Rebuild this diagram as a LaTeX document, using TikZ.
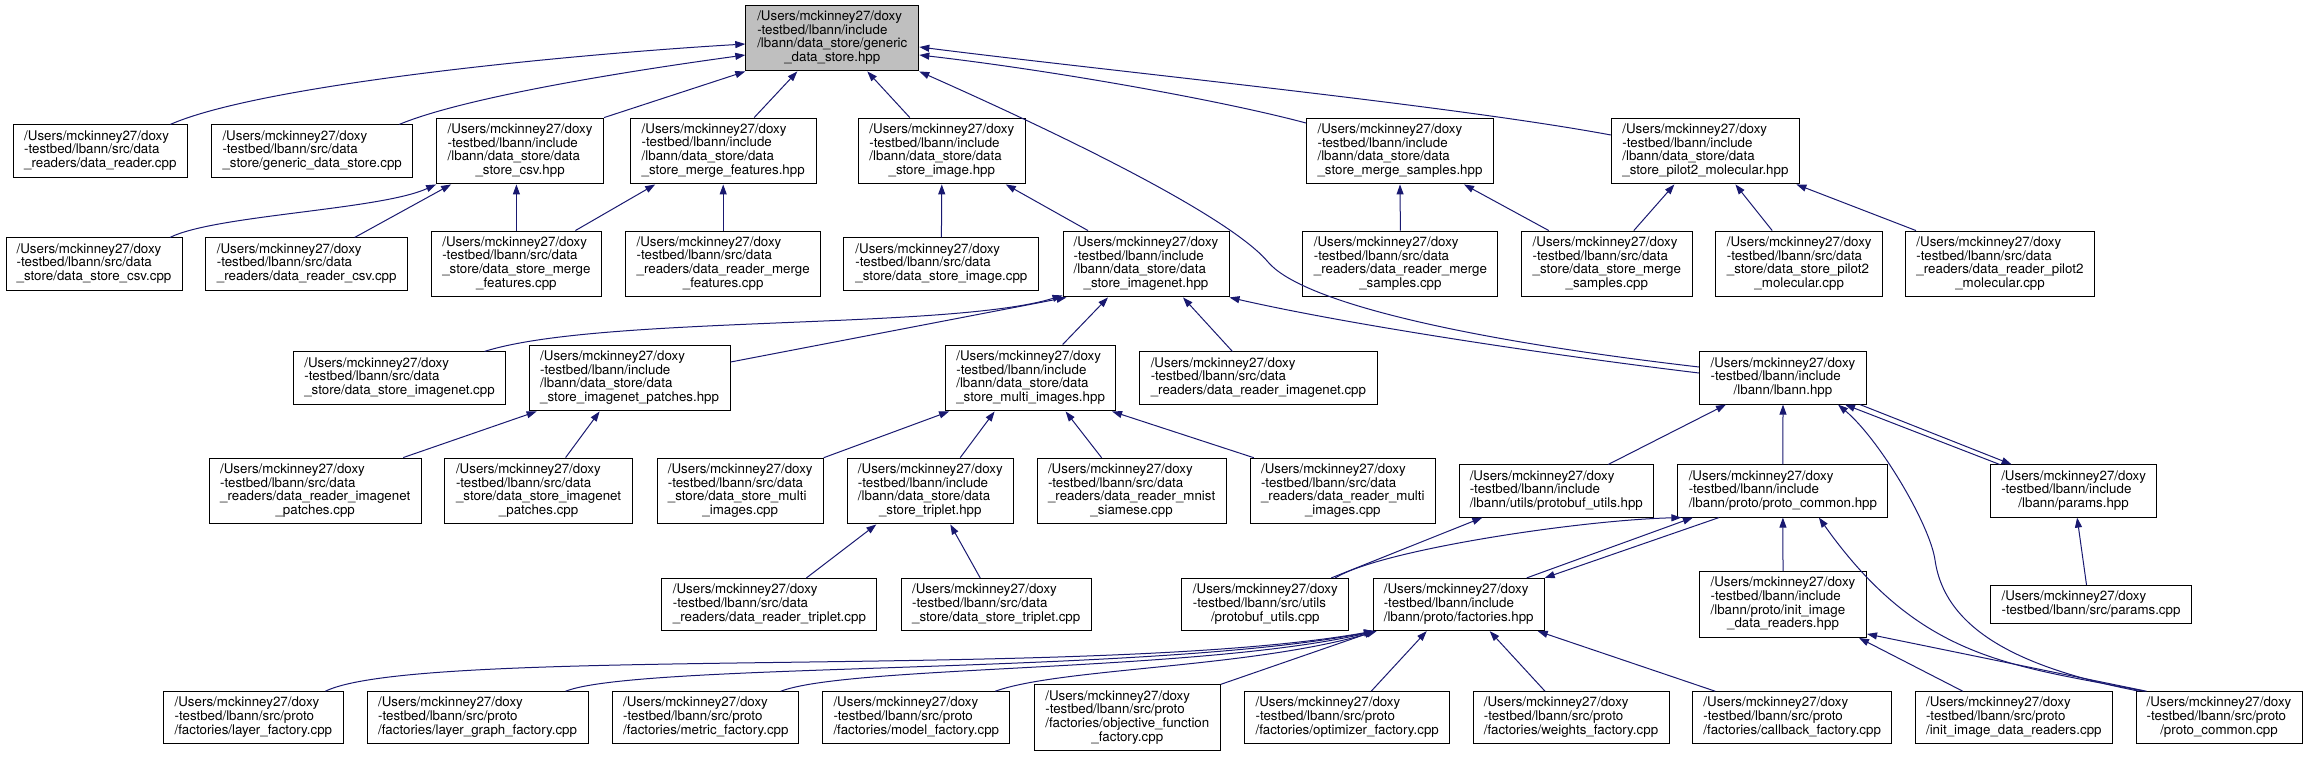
\documentclass[tikz,border=0pt]{standalone}
\usepackage{fontspec}
\setmainfont{TeX Gyre Heros}
\usepackage{tikz}
\usetikzlibrary{arrows.meta}
\definecolor{edgeblue}{RGB}{25,25,112}
\definecolor{rootgray}{RGB}{191,191,191}
\newcommand{\flabel}[2]{\begin{tabular}{@{}l@{}}#1\\\multicolumn{1}{@{}c@{}}{#2}\end{tabular}}
\newcommand{\usr}{/Users/mckinney27/doxy}
\newcommand{\incl}{-testbed/lbann/include}
\newcommand{\srcd}{-testbed/lbann/src/data}
\newcommand{\srcp}{-testbed/lbann/src/proto}
\newcommand{\dsd}{/lbann/data\_store/data}

\begin{document}
\begin{tikzpicture}[
  x=1pt, y=-1pt,
  file/.style={draw,fill=white,line width=1pt,inner xsep=3pt,inner ysep=5.5pt,
    font=\fontsize{13.33}{13.33}\selectfont},
  rootfile/.style={file,fill=rootgray},
  inc/.style={draw=edgeblue,line width=1pt,-{Triangle[length=10pt,width=7pt]}}
]
\useasboundingbox (0,0) rectangle (2308,756);

% root
\node[rootfile,minimum width=173pt] (root) at (832.3,38) {\flabel{\usr\\\incl\\/lbann/data\_store/generic}{\_data\_store.hpp}};

% row A
\node[file,minimum width=174pt] (a1) at (100.3,151) {\flabel{\usr\\\srcd}{\_readers/data\_reader.cpp}};
\node[file,minimum width=201pt] (a2) at (312.2,151) {\flabel{\usr\\\srcd}{\_store/generic\_data\_store.cpp}};
\node[file,minimum width=167pt] (a3) at (520.1,151) {\flabel{\usr\\\incl\\\dsd}{\_store\_csv.hpp}};
\node[file,minimum width=186pt] (a4) at (723.2,151) {\flabel{\usr\\\incl\\\dsd}{\_store\_merge\_features.hpp}};
\node[file,minimum width=167pt] (a5) at (941.8,151) {\flabel{\usr\\\incl\\\dsd}{\_store\_image.hpp}};
\node[file,minimum width=187pt] (a6) at (1400,151) {\flabel{\usr\\\incl\\\dsd}{\_store\_merge\_samples.hpp}};
\node[file,minimum width=188pt] (a7) at (1705.4,151) {\flabel{\usr\\\incl\\\dsd}{\_store\_pilot2\_molecular.hpp}};

% row B
\node[file,minimum width=176pt] (b1) at (94,264) {\flabel{\usr\\\srcd}{\_store/data\_store\_csv.cpp}};
\node[file,minimum width=202pt] (b2) at (306.7,264) {\flabel{\usr\\\srcd}{\_readers/data\_reader\_csv.cpp}};
\node[file,minimum width=170pt] (b3) at (516.4,264) {\flabel{\usr\\\srcd\\\_store/data\_store\_merge}{\_features.cpp}};
\node[file,minimum width=195pt] (b4) at (723.2,264) {\flabel{\usr\\\srcd\\\_readers/data\_reader\_merge}{\_features.cpp}};
\node[file,minimum width=195pt] (b5) at (941.4,264) {\flabel{\usr\\\srcd}{\_store/data\_store\_image.cpp}};
\node[file,minimum width=166pt] (b6) at (1146,264) {\flabel{\usr\\\incl\\\dsd}{\_store\_imagenet.hpp}};
\node[file,minimum width=195pt] (b7) at (1400.4,264) {\flabel{\usr\\\srcd\\\_readers/data\_reader\_merge}{\_samples.cpp}};
\node[file,minimum width=171pt] (b8) at (1606.8,264) {\flabel{\usr\\\srcd\\\_store/data\_store\_merge}{\_samples.cpp}};
\node[file,minimum width=167pt] (b9) at (1799.2,264) {\flabel{\usr\\\srcd\\\_store/data\_store\_pilot2}{\_molecular.cpp}};
\node[file,minimum width=189pt] (b10) at (2000,264) {\flabel{\usr\\\srcd\\\_readers/data\_reader\_pilot2}{\_molecular.cpp}};

% row C
\node[file,minimum width=212pt] (c1) at (399.5,378) {\flabel{\usr\\\srcd}{\_store/data\_store\_imagenet.cpp}};
\node[file,minimum width=201pt] (c2) at (629.6,378) {\flabel{\usr\\\incl\\\dsd}{\_store\_imagenet\_patches.hpp}};
\node[file,minimum width=170pt] (c3) at (1030.6,378) {\flabel{\usr\\\incl\\\dsd}{\_store\_multi\_images.hpp}};
\node[file,minimum width=238pt] (c4) at (1258.4,378) {\flabel{\usr\\\srcd}{\_readers/data\_reader\_imagenet.cpp}};
\node[file,minimum width=167pt] (c5) at (1783,378) {\flabel{\usr\\\incl}{/lbann/lbann.hpp}};

% row D
\node[file,minimum width=212pt] (d1) at (315.2,491) {\flabel{\usr\\\srcd\\\_readers/data\_reader\_imagenet}{\_patches.cpp}};
\node[file,minimum width=188pt] (d2) at (538.6,491) {\flabel{\usr\\\srcd\\\_store/data\_store\_imagenet}{\_patches.cpp}};
\node[file,minimum width=166pt] (d3) at (740.2,491) {\flabel{\usr\\\srcd\\\_store/data\_store\_multi}{\_images.cpp}};
\node[file,minimum width=166pt] (d4) at (930.3,491) {\flabel{\usr\\\incl\\\dsd}{\_store\_triplet.hpp}};
\node[file,minimum width=189pt] (d5) at (1131.6,491) {\flabel{\usr\\\srcd\\\_readers/data\_reader\_mnist}{\_siamese.cpp}};
\node[file,minimum width=185pt] (d6) at (1342.8,491) {\flabel{\usr\\\srcd\\\_readers/data\_reader\_multi}{\_images.cpp}};
\node[file,minimum width=194pt] (d7) at (1556.3,491) {\flabel{\usr\\\incl}{/lbann/utils/protobuf\_utils.hpp}};
\node[file,minimum width=210pt] (d8) at (1782.9,491) {\flabel{\usr\\\incl}{/lbann/proto/proto\_common.hpp}};
\node[file,minimum width=166pt] (d9) at (2073.6,491) {\flabel{\usr\\\incl}{/lbann/params.hpp}};

% row E
\node[file,minimum width=215pt] (e1) at (769.4,604.5) {\flabel{\usr\\\srcd}{\_readers/data\_reader\_triplet.cpp}};
\node[file,minimum width=190pt] (e2) at (996.2,604.5) {\flabel{\usr\\\srcd}{\_store/data\_store\_triplet.cpp}};
\node[file,minimum width=167pt] (e3) at (1265.3,604.5) {\flabel{\usr\\-testbed/lbann/src/utils}{/protobuf\_utils.cpp}};
\node[file,minimum width=171pt] (e4) at (1458.7,604.5) {\flabel{\usr\\\incl}{/lbann/proto/factories.hpp}};
\node[file,minimum width=167pt] (e5) at (1783,604.5) {\flabel{\usr\\\incl\\/lbann/proto/init\_image}{\_data\_readers.hpp}};
\node[file,minimum width=201pt] (e6) at (2091,604.5) {\flabel{\usr}{-testbed/lbann/src/params.cpp}};

% row F
\node[file,minimum width=180pt] (f1) at (253.4,717.8) {\flabel{\usr\\\srcp}{/factories/layer\_factory.cpp}};
\node[file,minimum width=221pt] (f2) at (477.6,717.8) {\flabel{\usr\\\srcp}{/factories/layer\_graph\_factory.cpp}};
\node[file,minimum width=186pt] (f3) at (705.8,717.8) {\flabel{\usr\\\srcp}{/factories/metric\_factory.cpp}};
\node[file,minimum width=187pt] (f4) at (916.3,717.8) {\flabel{\usr\\\srcp}{/factories/model\_factory.cpp}};
\node[file,minimum width=186pt] (f5) at (1127.3,717.8) {\flabel{\usr\\\srcp\\/factories/objective\_function}{\_factory.cpp}};
\node[file,minimum width=205pt] (f6) at (1347.2,717.8) {\flabel{\usr\\\srcp}{/factories/optimizer\_factory.cpp}};
\node[file,minimum width=196pt] (f7) at (1571,717.8) {\flabel{\usr\\\srcp}{/factories/weights\_factory.cpp}};
\node[file,minimum width=199pt] (f8) at (1792.2,717.8) {\flabel{\usr\\\srcp}{/factories/callback\_factory.cpp}};
\node[file,minimum width=197pt] (f9) at (2013.8,717.8) {\flabel{\usr\\\srcp}{/init\_image\_data\_readers.cpp}};
\node[file,minimum width=166pt] (f10) at (2219,717.8) {\flabel{\usr\\\srcp}{/proto\_common.cpp}};

% edges into root
\draw[inc] ([xshift=70pt]a1.north) .. controls (260,85) and (560,55) .. ([yshift=-6pt]root.west);
\draw[inc] ([xshift=87pt]a2.north) .. controls (470,95) and (650,68) .. ([yshift=-17pt]root.west);
\draw[inc] (a3.north east) -- (root.south west);
\draw[inc] ([xshift=31pt]a4.north) -- ([xshift=-35pt]root.south);
\draw[inc] ([xshift=-32pt]a5.north) -- ([xshift=35pt]root.south);
\draw[inc] ([yshift=28pt]a6.west) .. controls (1220,100) and (1050,70) .. ([yshift=-17pt]root.east);
\draw[inc] ([yshift=16pt]a7.west) .. controls (1450,105) and (1100,70) .. ([yshift=-9pt]root.east);
\draw[inc] ([yshift=11pt]c5.west) .. controls (1450,338) and (1300,300) .. (1268,262)
  .. controls (1243,232) and (1150,174) .. (root.south east);

% row B to row A
\draw[inc] ([xshift=76pt]b1.north) .. controls (215,215) and (380,210) .. (a3.south west);
\draw[inc] ([xshift=48pt]b2.north) -- ([xshift=-69pt]a3.south);
\draw[inc] (b3.north) -- (b3.north |- a3.south);
\draw[inc] ([xshift=59pt]b3.north) -- ([xshift=-68pt]a4.south);
\draw[inc] (b4.north) -- (a4.south);
\draw[inc] (b5.north) -- (a5.south);
\draw[inc] ([xshift=-58pt]b6.north) -- ([xshift=64pt]a5.south);
\draw[inc] (b7.north) -- (a6.south);
\draw[inc] ([xshift=-58pt]b8.north) -- ([xshift=64pt]a6.south);
\draw[inc] ([xshift=27pt]b8.north) -- ([xshift=-31pt]a7.south);
\draw[inc] ([xshift=-27pt]b9.north) -- ([xshift=30pt]a7.south);
\draw[inc] ([xshift=-84pt]b10.north) -- ([xshift=91pt]a7.south);

% row C to row B
\draw[inc] ([xshift=85pt]c1.north) .. controls (600,315) and (950,330) .. ([yshift=2pt]b6.south west);
\draw[inc] ([yshift=16pt]c2.east) -- ([xshift=4pt]b6.south west);
\draw[inc] ([xshift=32pt]c3.north) -- ([xshift=-38pt]b6.south);
\draw[inc] ([xshift=-26pt]c4.north) -- ([xshift=37pt]b6.south);
\draw[inc] ([yshift=5pt]c5.west) .. controls (1550,355) and (1350,325) .. (b6.south east);

% row D to row C
\draw[inc] ([xshift=88pt]d1.north) -- ([xshift=8pt]c2.south west);
\draw[inc] ([xshift=27pt]d2.north) -- ([xshift=-30pt]c2.south);
\draw[inc] (d3.north east) -- ([xshift=4pt]c3.south west);
\draw[inc] ([xshift=30pt]d4.north) -- ([xshift=-36pt]c3.south);
\draw[inc] ([xshift=-30pt]d5.north) -- ([xshift=35pt]c3.south);
\draw[inc] ([xshift=-89pt]d6.north) -- ([xshift=-4pt]c3.south east);
\draw[inc] ([xshift=52pt]d7.north) -- ([xshift=-57pt]c5.south);
\draw[inc] (d8.north) -- (c5.south);
\draw[inc] ([xshift=-74pt]d9.north) -- ([xshift=62pt]c5.south);
\draw[inc] ([xshift=77pt]c5.south) -- ([xshift=-62pt]d9.north);
\draw[inc] ([xshift=4pt]f10.north west) .. controls (2020,668) and (1945,630) .. (1935,560)
  .. controls (1930,525) and (1880,440) .. ([xshift=55pt]c5.south);

% row E to row D
\draw[inc] ([xshift=37pt]e1.north) -- ([xshift=-54pt]d4.south);
\draw[inc] ([xshift=-16pt]e2.north) -- ([xshift=20pt]d4.south);
\draw[inc] ([xshift=66pt]e3.north) -- ([xshift=-74pt]d7.south);
\draw[inc] ([xshift=70pt]e3.north) .. controls (1380,550) and (1580,520) .. ([xshift=4pt]d8.south west);
\draw[inc] ([xshift=68pt]e4.north) -- ([xshift=-90pt]d8.south);
\draw[inc] ([xshift=-64pt]d8.south) -- (e4.north east);
\draw[inc] (e5.north) -- (d8.south);
\draw[inc] ([xshift=9pt]f10.north west) .. controls (2010,665) and (1920,660) .. ([xshift=36pt]d8.south);
\draw[inc] ([xshift=-4.5pt]e6.north) -- ([xshift=3.5pt]d9.south);

% row F to row E
\draw[inc] ([xshift=72pt]f1.north) .. controls (420,645) and (1100,680) .. ([xshift=1pt]e4.south west);
\draw[inc] ([xshift=88pt]f2.north) .. controls (640,662) and (1150,675) .. ([xshift=2pt]e4.south west);
\draw[inc] ([xshift=75pt]f3.north) .. controls (850,665) and (1200,672) .. ([xshift=3pt]e4.south west);
\draw[inc] ([xshift=79pt]f4.north) .. controls (1060,668) and (1250,668) .. ([xshift=4pt]e4.south west);
\draw[inc] (f5.north east) -- ([xshift=2pt]e4.south west);
\draw[inc] ([xshift=24pt]f6.north) -- ([xshift=-32pt]e4.south);
\draw[inc] ([xshift=-26pt]f7.north) -- ([xshift=31pt]e4.south);
\draw[inc] ([xshift=-77pt]f8.north) -- ([xshift=79pt]e4.south);
\draw[inc] ([xshift=-51pt]f9.north) -- ([xshift=76pt]e5.south);
\draw[inc] ([xshift=11pt]f10.north west) -- ([yshift=4pt]e5.south east);
\end{tikzpicture}
\end{document}
